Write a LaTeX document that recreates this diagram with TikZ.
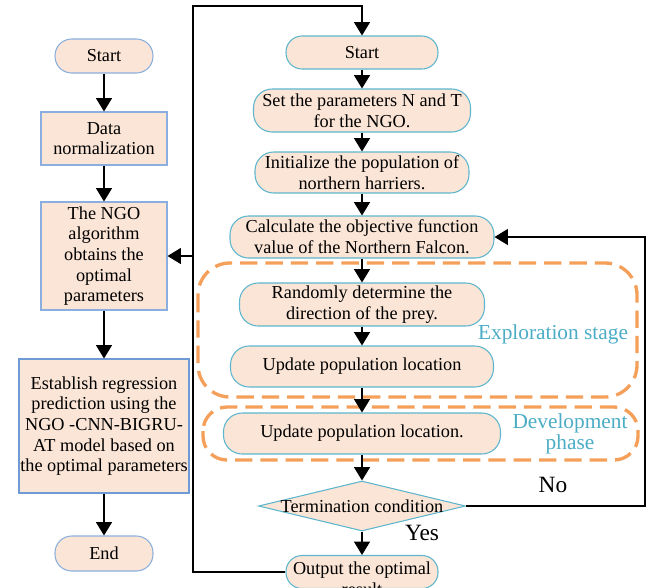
\documentclass[tikz,border=0pt]{standalone}
\usepackage{fontspec}
\setmainfont{Liberation Serif}
\usetikzlibrary{shapes.misc,shapes.geometric,arrows.meta}
\definecolor{peach}{HTML}{FBE5D6}
\definecolor{bordL}{HTML}{8AAFDE}
\definecolor{bordLd}{HTML}{6F9AD3}
\definecolor{bordR}{HTML}{5DB6CE}
\definecolor{dashO}{HTML}{F5A05A}
\definecolor{stageC}{HTML}{4BACC6}
\begin{document}
\begin{tikzpicture}[x=0.75pt,y=-0.75pt,
  base/.style={fill=peach, line width=0.8pt, inner sep=0pt, align=center, font=\fontsize{13.7}{15.5}\selectfont},
  pillL/.style={base, rectangle, rounded corners=12.5pt, draw=bordL},
  boxL/.style={base, rectangle, draw=bordL},
  pillR/.style={base, rectangle, rounded corners=12pt, draw=bordR},
  pillRt/.style={base, rectangle, rounded corners=14pt, draw=bordR},
  decis/.style={base, diamond, draw=bordR},
  txt/.style={inner sep=0pt, align=center, font=\fontsize{13.7}{15.5}\selectfont},
  arr/.style={line width=0.8pt, -{Triangle[width=12pt,length=10pt]}},
  stage/.style={draw=dashO, line width=2.5pt, dash pattern=on 13pt off 6pt},
  stagelbl/.style={text=stageC, inner sep=0pt, font=\fontsize{16}{14}\selectfont, align=center},
  yn/.style={inner sep=0pt, font=\fontsize{17.5}{19}\selectfont}
]
\useasboundingbox (0,0) rectangle (646,587);

% dashed stage frames
\draw[stage, rounded corners=24pt] (198,263) rectangle (637,397);
\draw[stage, rounded corners=18pt] (203,407) rectangle (638,460);
\node[stagelbl] (expl) at (553,334) {Exploration stage};
\node[stagelbl] (devl) at (570,434) {Development\\phase};

% left column
\node[pillL, minimum width=73.5pt, minimum height=25.5pt] (s1) at (104,56) {Start};
\node[boxL, minimum width=94.5pt, minimum height=39.75pt] (dn) at (104,138.5) {Data\\normalization};
\node[boxL, minimum width=94.5pt, minimum height=81pt] (ngo) at (104,256) {The NGO\\algorithm\\obtains the\\optimal\\parameters};
\node[boxL, draw=bordLd, minimum width=127.5pt, minimum height=100.5pt] (est) at (104,426) {Establish regression\\prediction using the\\NGO -CNN-BIGRU-\\AT model based on\\the optimal parameters};
\node[pillL, minimum width=73.5pt, minimum height=26.25pt] (e1) at (104,553.5) {End};

% right column
\node[pillR, minimum width=114pt, minimum height=24.75pt] (s2) at (362,52.5) {Start};
\node[pillRt, minimum width=162.75pt, minimum height=32.25pt] (set) at (362,110.5) {Set the parameters N and T\\for the NGO.};
\node[pillRt, minimum width=160.5pt, minimum height=30.75pt] (init) at (362,172.5) {Initialize the population of\\northern harriers.};
\node[pillRt, minimum width=198pt, minimum height=31.5pt] (calc) at (362,237) {Calculate the objective function\\value of the Northern Falcon.};
\node[pillRt, minimum width=183.75pt, minimum height=32.25pt] (rand) at (362,304.5) {Randomly determine the\\direction of the prey.};
\node[pillRt, minimum width=197.25pt, minimum height=30.75pt] (up1) at (362,366.5) {Update population location};
\node[pillRt, minimum width=207.75pt, minimum height=30.75pt] (up2) at (362,433.5) {Update population location.};
\node[decis, minimum width=155.25pt, minimum height=37.5pt] (term) at (362,506) {};
\node[txt] (termtxt) at (term.center) {Termination condition};
\node[pillR, minimum width=114pt, minimum height=24.75pt] (out) at (362,572) {};
\node[txt] (outtxt) at (362,579) {Output the optimal\\result};

\node[yn] (no) at (553,485) {No};
\node[yn] (yes) at (422,533) {Yes};

% connectors left
\draw[arr] (s1) -- (dn);
\draw[arr] (dn) -- (ngo);
\draw[arr] (ngo) -- (est);
\draw[arr] (est) -- (e1);

% connectors right
\draw[arr] (s2) -- (set);
\draw[arr] (set) -- (init);
\draw[arr] (init) -- (calc);
\draw[arr] (calc) -- (rand);
\draw[arr] (rand) -- (up1);
\draw[arr] (up1) -- (up2);
\draw[arr] (up2) -- (term);
\draw[arr] (term) -- (out);

% loops
\coordinate (lt) at (193,6);
\coordinate (nr) at (645,506);
\draw[arr] (out.west) -| (lt) -| (s2.north);
\draw[arr] (ngo.east -| lt) -- (ngo.east);
\draw[arr] (term.east) -- (nr) |- (calc.east);
\end{tikzpicture}
\end{document}
